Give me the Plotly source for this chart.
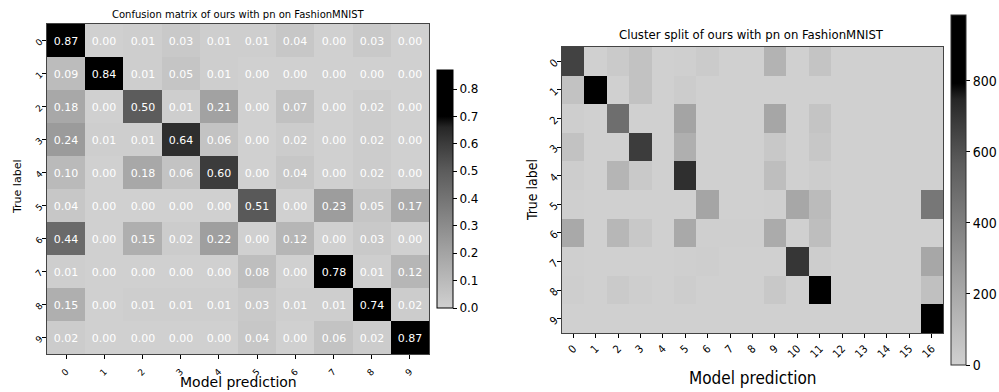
import plotly.graph_objects as go

# ---- data ---------------------------------------------------------------
class_labels = [str(i) for i in range(10)]
cluster_labels = [str(i) for i in range(17)]

# row-normalised confusion matrix (true label x predicted label)
confusion = [
    [0.87, 0.00, 0.01, 0.03, 0.01, 0.01, 0.04, 0.00, 0.03, 0.00],
    [0.09, 0.84, 0.01, 0.05, 0.01, 0.00, 0.00, 0.00, 0.00, 0.00],
    [0.18, 0.00, 0.50, 0.01, 0.21, 0.00, 0.07, 0.00, 0.02, 0.00],
    [0.24, 0.01, 0.01, 0.64, 0.06, 0.00, 0.02, 0.00, 0.02, 0.00],
    [0.10, 0.00, 0.18, 0.06, 0.60, 0.00, 0.04, 0.00, 0.02, 0.00],
    [0.04, 0.00, 0.00, 0.00, 0.00, 0.51, 0.00, 0.23, 0.05, 0.17],
    [0.44, 0.00, 0.15, 0.02, 0.22, 0.00, 0.12, 0.00, 0.03, 0.00],
    [0.01, 0.00, 0.00, 0.00, 0.00, 0.08, 0.00, 0.78, 0.01, 0.12],
    [0.15, 0.00, 0.01, 0.01, 0.01, 0.03, 0.01, 0.01, 0.74, 0.02],
    [0.02, 0.00, 0.00, 0.00, 0.00, 0.04, 0.00, 0.06, 0.02, 0.87],
]

# sample counts per (true label, cluster)
cluster_counts = [
    [660,   0,  30,  70,   0,   5,  25,   0,   0, 150,   0,  60,   0,   0,   0,   0,   0],
    [ 70, 840,   0,  70,   0,  20,   0,   0,   0,   0,   0,   0,   0,   0,   0,   0,   0],
    [ 10,   2, 480,   0,   0, 225,   0,   0,   0, 215,   0,  60,   0,   0,   0,   0,   0],
    [ 70,   0,   0, 680,   0, 170,   0,   0,   0,  40,   0,  45,   0,   0,   0,   0,   0],
    [ 15,   0, 140,  35,   0, 720,   0,   0,   0,  90,   0,  15,   0,   0,   0,   0,   0],
    [  5,   0,   0,   0,   0,   0, 220,   0,   0,   5, 210, 110,   0,   0,   0,   0, 440],
    [200,   0, 130,  40,   0, 200,   5,   5,   5, 190,   0,  90,   0,   0,   0,   0,   0],
    [  5,   0,   0,   0,   0,   5,  10,   0,   0,   0, 700,  15,   0,   0,   0,   0, 210],
    [ 10,   0,  30,  10,   0,  15,   0,   0,   0,  40,   0, 830,   0,   0,   0,   0,  80],
    [  0,   0,   0,   0,   0,   0,   0,   0,   0,   0,   0,   0,   0,   0,   0,   0, 985],
]

# light grey -> black, saturating to black near the top of the range
grey_scale = [
    [0.000, "rgb(208,208,208)"],
    [0.250, "rgb(160,160,160)"],
    [0.575, "rgb(92,92,92)"],
    [0.690, "rgb(60,60,60)"],
    [0.760, "rgb(38,38,38)"],
    [0.805, "rgb(0,0,0)"],
    [1.000, "rgb(0,0,0)"],
]

W, H = 999, 392
def fx(px):
    return px / W
def fy(py):
    return 1 - py / H

SANS = "DejaVu Sans, Verdana, sans-serif"
NARROW = "DejaVu Sans Condensed, Liberation Sans Narrow, DejaVu Sans, sans-serif"

fig = go.Figure()

fig.add_trace(go.Heatmap(
    z=confusion, x=class_labels, y=class_labels,
    colorscale=grey_scale, zmin=0, zmax=0.87,
    texttemplate="%{z:.2f}", textfont=dict(color="white", size=11, family=SANS),
    xgap=0, ygap=0, xaxis="x", yaxis="y",
    colorbar=dict(
        x=fx(437), xanchor="left", xpad=0,
        y=fy(308), yanchor="bottom", ypad=0,
        len=(308 - 70) / H, lenmode="fraction",
        thickness=16, thicknessmode="pixels",
        outlinewidth=1, outlinecolor="black",
        tickvals=[0.0, 0.1, 0.2, 0.3, 0.4, 0.5, 0.6, 0.7, 0.8],
        tickformat=".1f", ticks="outside", ticklen=4, tickcolor="black",
        tickfont=dict(size=12, family=SANS, color="black"),
    ),
    hoverinfo="skip",
))

fig.add_trace(go.Heatmap(
    z=cluster_counts, x=cluster_labels, y=class_labels,
    colorscale=grey_scale, zmin=0, zmax=985,
    xgap=0, ygap=0, xaxis="x2", yaxis="y2",
    colorbar=dict(
        x=fx(951), xanchor="left", xpad=0,
        y=fy(365), yanchor="bottom", ypad=0,
        len=(365 - 15) / H, lenmode="fraction",
        thickness=15, thicknessmode="pixels",
        outlinewidth=1, outlinecolor="#333",
        tickvals=[0, 200, 400, 600, 800],
        ticks="outside", ticklen=4, tickcolor="black",
        tickfont=dict(size=14, family=NARROW, color="black"),
    ),
    hoverinfo="skip",
))

axis_common = dict(
    showline=True, mirror=True, linecolor="#444", linewidth=1,
    ticks="outside", ticklen=4, tickcolor="black",
    showgrid=False, zeroline=False, type="category",
)

fig.update_layout(
    width=W, height=H,
    margin=dict(l=0, r=0, t=0, b=0),
    paper_bgcolor="white", plot_bgcolor="white",
    xaxis=dict(domain=[fx(47), fx(429)], anchor="y", tickangle=-45, ticklabelstandoff=4,
               tickfont=dict(size=9, family=SANS, color="black"), **axis_common),
    yaxis=dict(domain=[fy(354), fy(24)], anchor="x", autorange="reversed", tickangle=-45,
               tickfont=dict(size=9, family=SANS, color="black"), **axis_common),
    xaxis2=dict(domain=[fx(562), fx(943)], anchor="y2", tickangle=-45,
                tickfont=dict(size=11, family=NARROW, color="black"), **axis_common),
    yaxis2=dict(domain=[fy(333), fy(47)], anchor="x2", autorange="reversed", tickangle=-45,
                tickfont=dict(size=11, family=NARROW, color="black"), **axis_common),
    showlegend=False,
)

texts = [
    dict(text="Confusion matrix of ours with pn on FashionMNIST", x=238, y=15, size=10, font=SANS, angle=0),
    dict(text="True label", x=17, y=187, size=11, font=SANS, angle=-90),
    dict(text="Model prediction", x=238, y=382, size=14, font=SANS, angle=0),
    dict(text="Cluster split of ours with pn on FashionMNIST", x=751, y=34, size=13, font=NARROW, angle=0),
    dict(text="True label", x=532, y=190, size=14, font=NARROW, angle=-90),
    dict(text="Model prediction", x=752, y=378, size=17, font=NARROW, angle=0),
]
for t in texts:
    fig.add_annotation(
        text=t["text"], x=fx(t["x"]), y=fy(t["y"]), xref="paper", yref="paper",
        xanchor="center", yanchor="middle", showarrow=False, textangle=t["angle"],
        font=dict(size=t["size"], family=t["font"], color="black"),
    )

fig.write_html("out.html")
